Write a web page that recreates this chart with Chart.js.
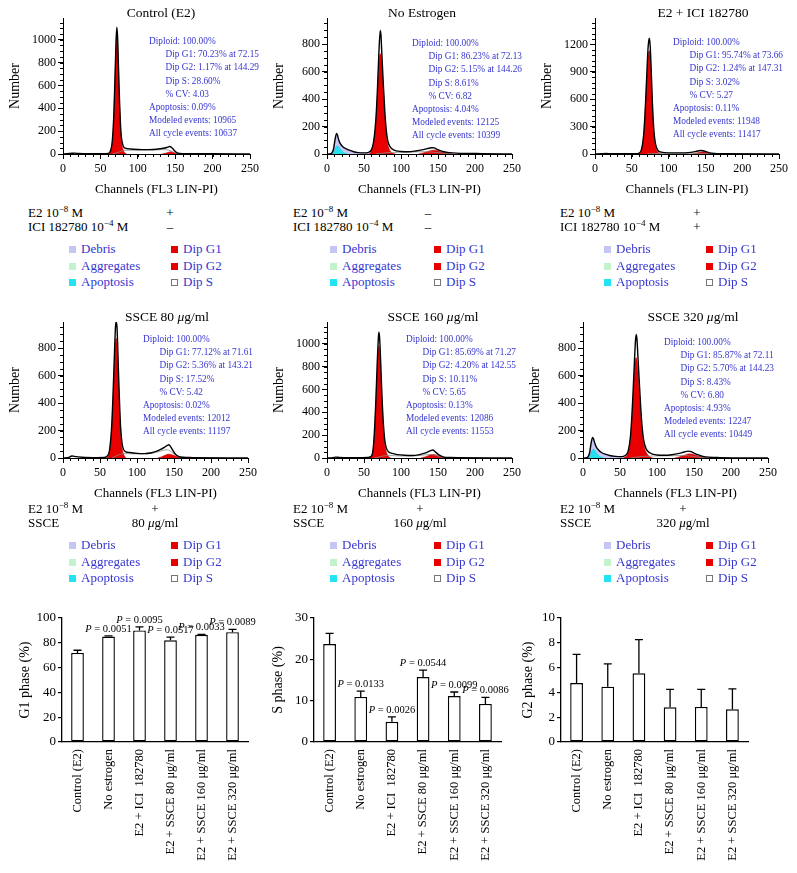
<!DOCTYPE html>
<html>
<head>
<meta charset="utf-8">
<script src="https://cdn.jsdelivr.net/npm/chart.js@4.4.1/dist/chart.umd.min.js"></script>
<style>
html, body { margin: 0; padding: 0; background: #fff; }
#page { position: relative; width: 797px; height: 873px; overflow: hidden;
        font-family: "Liberation Serif", "DejaVu Serif", serif; color: #000; }
canvas { position: absolute; }
.t { position: absolute; white-space: nowrap; line-height: 14px; }
.blue { color: #3535d0; }
.sw { position: absolute; width: 7px; height: 7px; box-sizing: border-box; }
sup { font-size: 9px; vertical-align: 5px; line-height: 0; }
</style>
</head>
<body>
<div id="page"></div>
<script>
/* Flow cytometry histograms + cell cycle bar charts */

// ----- histogram data: [channel, count] pairs -----
const ctrlTotal = [[0,0],[5,3],[12,6],[16,8],[20,4],[30,3],[45,2],[55,3],[60,5],[63,20],[66,120],[68,350],[70,780],[71,1000],[72,1110],[73,1020],[74,800],[75,580],[76,390],[77,240],[78,150],[80,80],[82,55],[85,48],[90,44],[100,40],[110,38],[120,40],[130,46],[136,52],[140,60],[143,66],[146,52],[149,30],[152,12],[156,5],[165,3],[200,2],[250,0]];
const ctrlG1 = [[61,0],[63,15],[66,110],[68,330],[70,740],[71,950],[72,1050],[73,960],[74,760],[75,540],[76,360],[77,210],[78,120],[80,45],[82,15],[85,0]];
const ctrlG2 = [[132,0],[137,6],[141,15],[144,20],[147,15],[151,6],[156,0]];
const ctrlS = [[66,0],[72,10],[78,25],[85,33],[100,34],[120,35],[132,38],[140,36],[146,22],[151,8],[156,0]];

const noeTotal = [[0,0],[6,5],[9,40],[11,110],[13,150],[14,140],[16,100],[18,75],[21,55],[25,40],[30,28],[35,18],[42,10],[50,8],[56,12],[60,30],[63,90],[66,250],[68,450],[70,720],[72,900],[73,860],[74,740],[76,520],[78,320],[80,180],[82,100],[85,55],[90,30],[100,18],[110,16],[120,22],[130,32],[138,42],[142,46],[145,44],[148,36],[152,26],[158,16],[165,10],[175,6],[190,4],[210,3],[250,0]];
const noeG1 = [[57,0],[60,20],[63,80],[66,230],[68,420],[70,640],[72,730],[73,715],[74,660],[76,480],[78,290],[80,150],[82,75],[85,25],[89,5],[92,0]];
const noeG2 = [[124,0],[130,8],[136,18],[141,26],[145,28],[150,22],[156,12],[163,5],[170,0]];
const noeS = [[66,0],[74,5],[82,10],[95,12],[115,14],[130,17],[140,15],[150,10],[160,4],[170,0]];
const noeApop = [[8,0],[10,20],[12,48],[14,60],[16,50],[18,34],[21,16],[24,6],[28,0]];
const noeDebris = [[7,0],[9,40],[11,100],[13,130],[15,105],[17,80],[20,58],[24,42],[30,26],[38,14],[48,8],[58,4],[66,0]];

const iciTotal = [[0,0],[8,2],[15,5],[22,2],[40,2],[55,3],[60,10],[63,45],[66,200],[68,450],[70,800],[72,1150],[73,1240],[74,1270],[75,1180],[76,1000],[77,780],[78,560],[80,260],[82,120],[85,45],[90,20],[100,12],[115,12],[130,18],[138,30],[143,38],[147,36],[151,26],[156,12],[162,5],[175,2],[250,0]];
const iciG1 = [[60,0],[63,35],[66,180],[68,420],[70,750],[72,1050],[73,1120],[74,1130],[75,1060],[76,900],[77,700],[78,500],[80,220],[82,90],[85,25],[89,0]];
const iciG2 = [[132,0],[137,8],[142,18],[147,24],[152,16],[157,6],[163,0]];
const iciS = [[70,0],[80,5],[95,7],[115,8],[135,8],[146,6],[155,2],[162,0]];

const s80Total = [[0,0],[8,5],[12,15],[15,12],[20,8],[30,4],[45,3],[56,4],[60,15],[63,60],[66,250],[68,520],[70,830],[71,960],[72,990],[73,950],[74,800],[75,620],[76,460],[77,320],[78,210],[80,100],[82,60],[85,45],[90,40],[100,34],[110,32],[120,38],[126,48],[132,62],[137,78],[141,92],[143,96],[146,78],[149,50],[152,28],[156,12],[162,5],[175,3],[250,0]];
const s80G1 = [[59,0],[62,30],[65,150],[68,470],[70,750],[71,850],[72,870],[73,830],[74,700],[75,540],[76,390],[77,260],[78,160],[80,65],[82,25],[85,0]];
const s80G2 = [[128,0],[133,8],[138,20],[142,28],[146,26],[150,18],[155,8],[162,0]];
const s80S = [[66,0],[72,15],[78,28],[85,32],[100,30],[115,32],[125,40],[133,52],[140,60],[145,50],[150,30],[156,10],[162,0]];

const s160Total = [[0,0],[8,3],[12,8],[16,5],[25,3],[40,2],[55,4],[59,12],[62,60],[64,220],[66,500],[68,850],[69,1000],[70,1100],[71,1060],[72,930],[73,760],[74,590],[75,440],[76,320],[78,160],[80,90],[83,55],[88,40],[95,30],[105,24],[115,22],[125,30],[132,42],[137,55],[141,66],[143,70],[146,56],[149,38],[153,20],[158,8],[165,4],[250,0]];
const s160G1 = [[58,0],[61,30],[64,190],[66,460],[68,790],[69,920],[70,980],[71,950],[72,840],[73,680],[74,520],[75,380],[76,270],[78,120],[80,55],[83,15],[86,0]];
const s160G2 = [[127,0],[132,8],[137,20],[141,30],[145,30],[149,22],[154,10],[162,0]];
const s160S = [[64,0],[70,8],[76,18],[84,22],[100,18],[115,18],[128,24],[138,30],[144,28],[150,16],[156,5],[162,0]];

const s320Total = [[0,0],[6,5],[9,40],[11,110],[13,150],[14,142],[16,108],[18,80],[21,58],[25,40],[30,28],[36,18],[44,12],[52,10],[57,18],[61,50],[64,150],[66,300],[68,520],[70,760],[71,860],[72,900],[73,860],[74,760],[76,560],[78,370],[80,220],[82,130],[85,70],[90,38],[100,22],[110,20],[120,24],[130,34],[137,44],[142,50],[146,46],[150,36],[155,24],[162,12],[170,6],[185,3],[250,0]];
const s320G1 = [[55,0],[58,10],[61,40],[64,130],[66,270],[68,470],[70,680],[71,720],[72,730],[73,700],[74,640],[76,470],[78,310],[80,180],[82,100],[85,45],[90,10],[94,0]];
const s320G2 = [[124,0],[130,8],[136,18],[141,28],[145,30],[150,24],[156,14],[163,6],[170,0]];
const s320S = [[64,0],[72,6],[82,12],[95,15],[115,16],[130,18],[140,17],[150,11],[160,4],[170,0]];
const s320Apop = [[8,0],[10,22],[12,50],[14,65],[16,55],[18,38],[21,18],[24,7],[28,0]];
const s320Debris = [[7,0],[9,40],[11,100],[13,135],[15,110],[17,84],[20,60],[24,42],[30,26],[38,15],[48,9],[58,4],[66,0]];

// ----- ModFit stat blocks -----
const ctrlStats = ["Diploid: 100.00%", "Dip G1: 70.23% at 72.15", "Dip G2: 1.17% at 144.29", "Dip S: 28.60%", "% CV: 4.03", "Apoptosis: 0.09%", "Modeled events: 10965", "All cycle events: 10637"];
const noeStats  = ["Diploid: 100.00%", "Dip G1: 86.23% at 72.13", "Dip G2: 5.15% at 144.26", "Dip S: 8.61%", "% CV: 6.82", "Apoptosis: 4.04%", "Modeled events: 12125", "All cycle events: 10399"];
const iciStats  = ["Diploid: 100.00%", "Dip G1: 95.74% at 73.66", "Dip G2: 1.24% at 147.31", "Dip S: 3.02%", "% CV: 5.27", "Apoptosis: 0.11%", "Modeled events: 11948", "All cycle events: 11417"];
const s80Stats  = ["Diploid: 100.00%", "Dip G1: 77.12% at 71.61", "Dip G2: 5.36% at 143.21", "Dip S: 17.52%", "% CV: 5.42", "Apoptosis: 0.02%", "Modeled events: 12012", "All cycle events: 11197"];
const s160Stats = ["Diploid: 100.00%", "Dip G1: 85.69% at 71.27", "Dip G2: 4.20% at 142.55", "Dip S: 10.11%", "% CV: 5.65", "Apoptosis: 0.13%", "Modeled events: 12086", "All cycle events: 11553"];
const s320Stats = ["Diploid: 100.00%", "Dip G1: 85.87% at 72.11", "Dip G2: 5.70% at 144.23", "Dip S: 8.43%", "% CV: 6.80", "Apoptosis: 4.93%", "Modeled events: 12247", "All cycle events: 10449"];

// ----- bar chart data -----
const groups = ["Control (E2)", "No estrogen", "E2 + ICI  182780", "E2 + SSCE 80 μg/ml", "E2 + SSCE 160 μg/ml", "E2 + SSCE 320 μg/ml"];
const g1Mean = [71.8, 85.1, 90.0, 82.0, 86.4, 88.6];
const g1Sd   = [2.2, 0.5, 2.8, 2.6, 0.4, 2.2];
const g1P    = ["", "0.0051", "0.0095", "0.0517", "0.0033", "0.0089"];
const sMean  = [23.7, 10.9, 4.9, 15.7, 11.1, 9.2];
const sSd    = [2.6, 1.4, 1.2, 1.7, 1.0, 1.6];
const sP     = ["", "0.0133", "0.0026", "0.0544", "0.0099", "0.0086"];
const g2Mean = [4.76, 4.46, 5.54, 2.80, 2.83, 2.64];
const g2Sd   = [2.31, 1.84, 2.72, 1.44, 1.41, 1.65];

const legendLeft  = [["Debris", "#c6c6f4"], ["Aggregates", "#c4f2cc"], ["Apoptosis", "#22e4f0"]];
const legendRight = [["Dip G1", "#e80000"], ["Dip G2", "#e80000"], ["Dip S", "#ffffff"]];

Chart.defaults.font.family = '"Liberation Serif", "DejaVu Serif", serif';
Chart.defaults.color = "#000";

// small ticks between the labelled ones, like the ModFit axes
const minorTicks = {
  id: "minorTicks",
  afterDraw(chart, args, opts) {
    if (!opts.x) return;
    const { ctx, scales: { x, y } } = chart;
    ctx.save();
    ctx.strokeStyle = "#000";
    ctx.lineWidth = 1;
    ctx.beginPath();
    for (let v = 0; v <= x.max; v += opts.x) {
      const px = Math.round(x.getPixelForValue(v)) + 0.5;
      ctx.moveTo(px, y.bottom); ctx.lineTo(px, y.bottom + 3);
    }
    for (let v = 0; v <= y.max; v += opts.y) {
      const py = Math.round(y.getPixelForValue(v)) + 0.5;
      ctx.moveTo(x.left - 3, py); ctx.lineTo(x.left, py);
    }
    ctx.stroke();
    ctx.restore();
  }
};

// upper error bars + P value labels
const errBars = {
  id: "errBars",
  afterDatasetsDraw(chart, args, opts) {
    if (!opts.sd) return;
    const { ctx } = chart, y = chart.scales.y;
    const mean = chart.data.datasets[0].data;
    const fam = Chart.defaults.font.family;
    ctx.save();
    ctx.strokeStyle = "#000";
    ctx.lineWidth = 1.3;
    ctx.fillStyle = "#000";
    ctx.textBaseline = "middle";
    chart.getDatasetMeta(0).data.forEach((bar, i) => {
      const y0 = y.getPixelForValue(mean[i]);
      const y1 = y.getPixelForValue(mean[i] + opts.sd[i]);
      ctx.beginPath();
      ctx.moveTo(bar.x, y0); ctx.lineTo(bar.x, y1);
      ctx.moveTo(bar.x - 4, y1); ctx.lineTo(bar.x + 4, y1);
      ctx.stroke();
      if (opts.p && opts.p[i]) {
        const rest = " = " + opts.p[i];
        ctx.font = "italic 10.5px " + fam;
        const wP = ctx.measureText("P").width;
        ctx.font = "10.5px " + fam;
        const wR = ctx.measureText(rest).width;
        const sx = bar.x - (wP + wR) / 2, ty = y1 - 7;
        ctx.font = "italic 10.5px " + fam;
        ctx.fillText("P", sx, ty);
        ctx.font = "10.5px " + fam;
        ctx.fillText(rest, sx + wP, ty);
      }
    });
    ctx.restore();
  }
};
Chart.register(minorTicks, errBars);

const page = document.getElementById("page");

function makeCanvas(left, top, w, h) {
  const c = document.createElement("canvas");
  c.width = w; c.height = h;
  c.style.left = left + "px"; c.style.top = top + "px";
  c.style.width = w + "px"; c.style.height = h + "px";
  page.appendChild(c);
  return c;
}

function text(x, y, html, css) {
  const d = document.createElement("div");
  d.className = "t";
  d.innerHTML = html;
  d.style.left = x + "px";
  d.style.top = (y - 7) + "px";
  if (css) Object.assign(d.style, css);
  page.appendChild(d);
  return d;
}

const xy = pts => pts.map(([x, y]) => ({ x, y }));

// ----- histogram panels -----
const ROW1 = { top: 18, bot: 154 }, ROW2 = { top: 322, bot: 458 };
const PANELS = [
  { title: "Control (E2)", tx: 161, row: ROW1, ax: 63, ar: 250, max: 1190, step: 200, minor: 50,
    total: ctrlTotal, g1: ctrlG1, g2: ctrlG2, s: ctrlS, stats: ctrlStats, sx: 149, sy: 41 },
  { title: "No Estrogen", tx: 422, row: ROW1, ax: 327, ar: 512, max: 990, step: 200, minor: 50,
    total: noeTotal, g1: noeG1, g2: noeG2, s: noeS, apop: noeApop, debris: noeDebris, stats: noeStats, sx: 412, sy: 43 },
  { title: "E2 + ICI 182780", tx: 703, row: ROW1, ax: 595, ar: 779, max: 1490, step: 300, minor: 60,
    total: iciTotal, g1: iciG1, g2: iciG2, s: iciS, stats: iciStats, sx: 673, sy: 42 },
  { title: "SSCE 80 <i>μ</i>g/ml", tx: 167, row: ROW2, ax: 63, ar: 248, max: 990, step: 200, minor: 50,
    total: s80Total, g1: s80G1, g2: s80G2, s: s80S, stats: s80Stats, sx: 143, sy: 339 },
  { title: "SSCE 160 <i>μ</i>g/ml", tx: 433, row: ROW2, ax: 327, ar: 512, max: 1190, step: 200, minor: 50,
    total: s160Total, g1: s160G1, g2: s160G2, s: s160S, stats: s160Stats, sx: 406, sy: 339 },
  { title: "SSCE 320 <i>μ</i>g/ml", tx: 693, row: ROW2, ax: 583, ar: 768, max: 990, step: 200, minor: 50,
    total: s320Total, g1: s320G1, g2: s320G2, s: s320S, apop: s320Apop, debris: s320Debris, stats: s320Stats, sx: 664, sy: 342 },
];

function drawHisto(p) {
  const left = p.ax - 60, top = p.row.top - 10;
  const c = makeCanvas(left, top, p.ar + 15 - left, 10 + (p.row.bot - p.row.top) + 45);
  const line = { pointRadius: 0, cubicInterpolationMode: "monotone", fill: false };
  const ds = [
    { ...line, data: xy(p.total), borderColor: "#000", borderWidth: 1.4 },
    { ...line, data: xy(p.s), borderColor: "#8a8a8a", borderWidth: 0.8 },
    { ...line, data: xy(p.g1), borderColor: "#b80000", borderWidth: 0.6, backgroundColor: "#e80000", fill: "origin" },
    { ...line, data: xy(p.g2), borderColor: "#b80000", borderWidth: 0.6, backgroundColor: "#e80000", fill: "origin" },
  ];
  if (p.apop) ds.push({ ...line, data: xy(p.apop), borderColor: "#10c8d8", borderWidth: 0.6, backgroundColor: "#22e4f0", fill: "origin" });
  if (p.debris) ds.push({ ...line, data: xy(p.debris), borderColor: "#a8a8e4", borderWidth: 0.6, backgroundColor: "#c8c8f4", fill: "origin" });

  new Chart(c, {
    type: "line",
    data: { datasets: ds },
    options: {
      responsive: false, animation: false, devicePixelRatio: 1,
      layout: { padding: { top: 10, right: 15, left: 0, bottom: 0 } },
      plugins: { legend: { display: false }, tooltip: { enabled: false }, minorTicks: { x: 10, y: p.minor } },
      scales: {
        x: {
          type: "linear", min: 0, max: 250,
          afterFit: s => { s.height = 45; },
          ticks: { stepSize: 50, font: { size: 12 }, padding: 3, maxRotation: 0 },
          grid: { drawOnChartArea: false, color: "#000", tickLength: 5 },
          border: { color: "#000", width: 1 },
          title: { display: true, text: "Channels (FL3 LIN-PI)", font: { size: 13 }, padding: { top: 0, bottom: 2 } },
        },
        y: {
          min: 0, max: p.max,
          afterFit: s => { s.width = 60; },
          // labelled ticks only at whole steps; the axis runs a little past the last one
          afterBuildTicks: s => {
            const t = [];
            for (let v = 0; v <= p.max; v += p.step) t.push({ value: v });
            s.ticks = t;
          },
          ticks: { font: { size: 12 }, padding: 2, callback: v => String(v) },
          grid: { drawOnChartArea: false, color: "#000", tickLength: 5 },
          border: { color: "#000", width: 1 },
          title: { display: true, text: "Number", font: { size: 14 }, padding: { top: 4, bottom: 0 } },
        },
      },
    },
  });

  text(p.tx, p.row.top - 5, p.title, { fontSize: "13.5px", transform: "translateX(-50%)" });
  p.stats.forEach((s, i) => {
    const indent = i >= 1 && i <= 4 ? 16.5 : 0;
    text(p.sx + indent, p.sy + i * 13.2, s, { fontSize: "9.3px" }).classList.add("blue");
  });
}
PANELS.forEach(drawHisto);

// ----- treatment conditions + legends under each panel -----
const CONDS = [
  { ex: 28, px: 170, y: 213, lines: [["E2 10<sup>−8</sup> M", "+"], ["ICI 182780 10<sup>−4</sup> M", "–"]] },
  { ex: 293, px: 428, y: 213, lines: [["E2 10<sup>−8</sup> M", "–"], ["ICI 182780 10<sup>−4</sup> M", "–"]] },
  { ex: 560, px: 697, y: 213, lines: [["E2 10<sup>−8</sup> M", "+"], ["ICI 182780 10<sup>−4</sup> M", "+"]] },
  { ex: 28, px: 155, y: 509, lines: [["E2 10<sup>−8</sup> M", "+"], ["SSCE", "80 <i>μ</i>g/ml"]] },
  { ex: 293, px: 420, y: 509, lines: [["E2 10<sup>−8</sup> M", "+"], ["SSCE", "160 <i>μ</i>g/ml"]] },
  { ex: 560, px: 683, y: 509, lines: [["E2 10<sup>−8</sup> M", "+"], ["SSCE", "320 <i>μ</i>g/ml"]] },
];
const LEG_X = [[69, 171], [330, 434], [604, 706]];

CONDS.forEach((cd, k) => {
  cd.lines.forEach(([lab, val], i) => {
    const yy = cd.y + i * 14;
    text(cd.ex, yy, lab, { fontSize: "13px" });
    text(cd.px, yy, val, { fontSize: "13px", transform: "translateX(-50%)" });
  });
  const [xa, xb] = LEG_X[k % 3];
  const ly = cd.y + 36;
  [[legendLeft, xa], [legendRight, xb]].forEach(([items, sx]) => {
    items.forEach(([name, col], i) => {
      const yy = ly + i * 16.5;
      const sq = document.createElement("div");
      sq.className = "sw";
      sq.style.left = sx + "px";
      sq.style.top = (yy - 3) + "px";
      sq.style.background = col;
      if (name === "Dip S") sq.style.border = "1px solid #777";
      page.appendChild(sq);
      text(sx + 12, yy, name, { fontSize: "13px" }).classList.add("blue");
    });
  });
});

// ----- bar charts -----
const BARS = [
  { left: 13, right: 248, yw: 49, title: "G1 phase (%)", max: 100, step: 20, mean: g1Mean, sd: g1Sd, p: g1P },
  { left: 266, right: 501, yw: 48, title: "S phase (%)", max: 30, step: 10, mean: sMean, sd: sSd, p: sP },
  { left: 516, right: 748, yw: 45, title: "G2 phase (%)", max: 10, step: 2, mean: g2Mean, sd: g2Sd, p: null },
];
const BAR_TOP = 600, BAR_AREA_TOP = 618, BAR_AREA_BOT = 742;

BARS.forEach(b => {
  const padR = 12;
  const h = 873 - BAR_TOP;
  const c = makeCanvas(b.left, BAR_TOP, b.right - b.left + padR, h);
  new Chart(c, {
    type: "bar",
    data: {
      labels: groups,
      datasets: [{
        data: b.mean, backgroundColor: "#fff", borderColor: "#000", borderWidth: 1.4,
        borderSkipped: false, barPercentage: 0.41, categoryPercentage: 1,
      }],
    },
    options: {
      responsive: false, animation: false, devicePixelRatio: 1,
      layout: { padding: { top: BAR_AREA_TOP - BAR_TOP, right: padR, left: 0, bottom: 0 } },
      plugins: { legend: { display: false }, tooltip: { enabled: false }, errBars: { sd: b.sd, p: b.p } },
      scales: {
        x: {
          afterFit: s => { s.height = h - (BAR_AREA_BOT - BAR_TOP); },
          ticks: { autoSkip: false, minRotation: 90, maxRotation: 90, font: { size: 12.5 }, padding: 7 },
          grid: { display: false, drawTicks: false },
          border: { color: "#000", width: 1.3 },
        },
        y: {
          min: 0, max: b.max,
          afterFit: s => { s.width = b.yw; },
          ticks: { stepSize: b.step, font: { size: 13 }, padding: 2 },
          grid: { drawOnChartArea: false, color: "#000", tickLength: 4, lineWidth: 1.2 },
          border: { color: "#000", width: 1.3 },
          title: { display: true, text: b.title, font: { size: 14 }, padding: { top: 4, bottom: 0 } },
        },
      },
    },
  });
});
</script>
</body>
</html>
